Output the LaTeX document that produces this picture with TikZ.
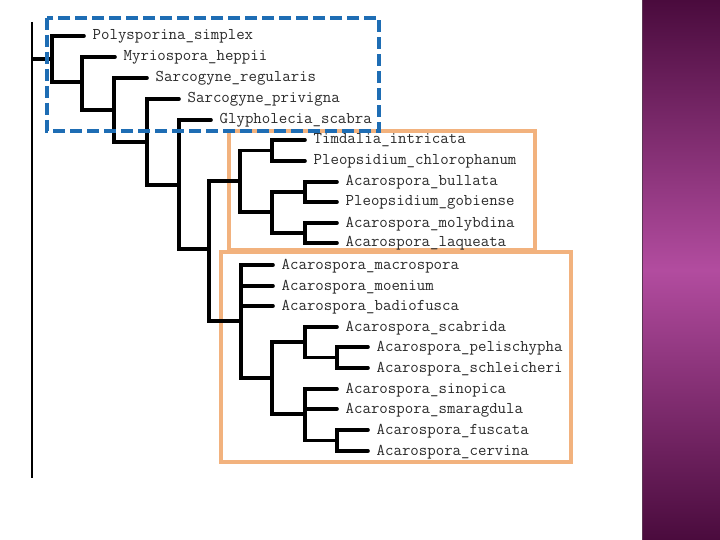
\documentclass[tikz,border=0pt]{standalone}
\usepackage{fontspec}
\definecolor{branchc}{HTML}{000000}
\definecolor{txtc}{HTML}{2A2A2A}
\definecolor{bluebox}{HTML}{1E6DB4}
\definecolor{orangebox}{HTML}{F2B27E}
\definecolor{purdark}{HTML}{4A0B3D}
\definecolor{purmid}{HTML}{B24C9F}
\definecolor{puredge}{HTML}{5B3552}
\begin{document}
\begin{tikzpicture}[x=1pt,y=-1pt,
  br/.style={draw=branchc,line width=3.6pt,line cap=round,line join=miter},
  leaf/.style={anchor=west,inner xsep=8.5pt,inner ysep=0pt,text height=9pt,text depth=1pt,
    font=\ttfamily\fontsize{16.4}{18}\selectfont,text=txtc},
  obox/.style={draw=orangebox,line width=3.4pt},
  bbox/.style={draw=bluebox,line width=3.6pt,dash pattern=on 12pt off 5pt}]
\useasboundingbox (0,0) rectangle (720,540);
\fill[white] (0,0) rectangle (720,540);
% purple side bar
\shade[top color=purdark,bottom color=purdark,middle color=purmid] (642,0) rectangle (720,540);
\draw[puredge,line width=1.2pt] (642.6,0) -- (642.6,540);
% orange boxes
\draw[obox] (229,131) rectangle (535,250);
\draw[obox] (221,252) rectangle (571,462);
% internal nodes
\coordinate (R) at (32,59);
\coordinate (N1) at (52,59);
\coordinate (N2) at (82,82);
\coordinate (N3) at (114,110);
\coordinate (N4) at (147,142);
\coordinate (N5) at (179,185);
\coordinate (N6) at (209,249);
\coordinate (A) at (240,181);
\coordinate (A1) at (272,150.5);
\coordinate (A2) at (272,212);
\coordinate (B1) at (305,192);
\coordinate (B2) at (305,233);
\coordinate (C) at (241,321);
\coordinate (D) at (272,378);
\coordinate (E) at (305,342);
\coordinate (F) at (337,357.5);
\coordinate (G) at (305,414);
\coordinate (H) at (337,440.5);
\coordinate (Rtop) at (32,22);
\coordinate (Rbot) at (32,478);
% leaves
\node[leaf] (l1) at (84,36) {Polysporina\_simplex};
\node[leaf] (l2) at (115,57) {Myriospora\_heppii};
\node[leaf] (l3) at (147,78) {Sarcogyne\_regularis};
\node[leaf] (l4) at (179,99) {Sarcogyne\_privigna};
\node[leaf] (l5) at (211,120) {Glypholecia\_scabra};
\node[leaf] (l6) at (305,140) {Timdalia\_intricata};
\node[leaf] (l7) at (305,161) {Pleopsidium\_chlorophanum};
\node[leaf] (l8) at (337,182) {Acarospora\_bullata};
\node[leaf] (l9) at (337,202) {Pleopsidium\_gobiense};
\node[leaf] (l10) at (337,223) {Acarospora\_molybdina};
\node[leaf] (l11) at (337,243) {Acarospora\_laqueata};
\node[leaf] (l12) at (273,265) {Acarospora\_macrospora};
\node[leaf] (l13) at (273,286) {Acarospora\_moenium};
\node[leaf] (l14) at (273,306) {Acarospora\_badiofusca};
\node[leaf] (l15) at (337,327) {Acarospora\_scabrida};
\node[leaf] (l16) at (368,347) {Acarospora\_pelischypha};
\node[leaf] (l17) at (368,368) {Acarospora\_schleicheri};
\node[leaf] (l18) at (337,389) {Acarospora\_sinopica};
\node[leaf] (l19) at (337,409) {Acarospora\_smaragdula};
\node[leaf] (l20) at (368,430) {Acarospora\_fuscata};
\node[leaf] (l21) at (368,451) {Acarospora\_cervina};
% root line
\draw[branchc,line width=2pt] (Rtop) -- (Rbot);
\draw[br,line cap=butt] (R) -- (N1);
% branches
\draw[br] (N1) |- (l1.west);
\draw[br] (N1) |- (N2);
\draw[br] (N2) |- (l2.west);
\draw[br] (N2) |- (N3);
\draw[br] (N3) |- (l3.west);
\draw[br] (N3) |- (N4);
\draw[br] (N4) |- (l4.west);
\draw[br] (N4) |- (N5);
\draw[br] (N5) |- (l5.west);
\draw[br] (N5) |- (N6);
\draw[br] (N6) |- (A);
\draw[br] (N6) |- (C);
\draw[br] (A) |- (A1);
\draw[br] (A) |- (A2);
\draw[br] (A1) |- (l6.west);
\draw[br] (A1) |- (l7.west);
\draw[br] (A2) |- (B1);
\draw[br] (A2) |- (B2);
\draw[br] (B1) |- (l8.west);
\draw[br] (B1) |- (l9.west);
\draw[br] (B2) |- (l10.west);
\draw[br] (B2) |- (l11.west);
\draw[br] (C) |- (l12.west);
\draw[br] (C) |- (l13.west);
\draw[br] (C) |- (l14.west);
\draw[br] (C) |- (D);
\draw[br] (D) |- (E);
\draw[br] (D) |- (G);
\draw[br] (E) |- (l15.west);
\draw[br] (E) |- (F);
\draw[br] (F) |- (l16.west);
\draw[br] (F) |- (l17.west);
\draw[br] (G) |- (l18.west);
\draw[br] (G) |- (l19.west);
\draw[br] (G) |- (H);
\draw[br] (H) |- (l20.west);
\draw[br] (H) |- (l21.west);
% blue dashed box
\draw[bbox] (47,18) rectangle (379,131);
\end{tikzpicture}
\end{document}
